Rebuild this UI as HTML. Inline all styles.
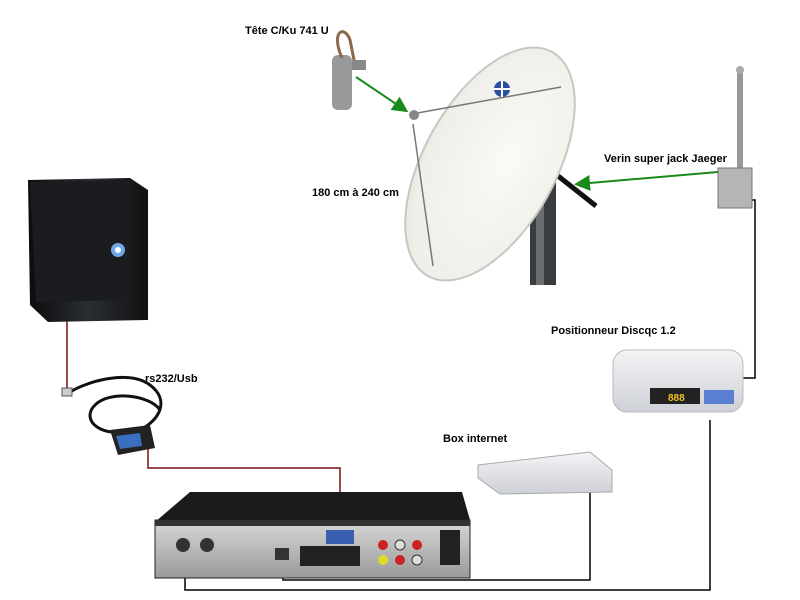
<!DOCTYPE html>
<html><head><meta charset="utf-8"><style>
html,body{margin:0;padding:0;background:#fff}
svg{display:block}
text{font-family:"Liberation Sans",sans-serif;font-weight:bold;font-size:11px;fill:#000}
</style></head><body>
<svg width="800" height="600" viewBox="0 0 800 600" xmlns="http://www.w3.org/2000/svg">
<defs>
<linearGradient id="pc" x1="0" x2="1"><stop offset="0" stop-color="#0c0c0c"/><stop offset="0.5" stop-color="#2a2e33"/><stop offset="1" stop-color="#111"/></linearGradient>
<radialGradient id="dish" cx="0.45" cy="0.4" r="0.7"><stop offset="0" stop-color="#fafaf6"/><stop offset="0.8" stop-color="#efeee8"/><stop offset="1" stop-color="#dddcd5"/></radialGradient>
<linearGradient id="wbox" x1="0" y1="0" x2="0" y2="1"><stop offset="0" stop-color="#f4f4f6"/><stop offset="1" stop-color="#cdd0d6"/></linearGradient>
<linearGradient id="rear" x1="0" y1="0" x2="0" y2="1"><stop offset="0" stop-color="#d8d8d8"/><stop offset="1" stop-color="#9a9a9a"/></linearGradient>
<marker id="ga" markerWidth="8" markerHeight="8" refX="6" refY="4" orient="auto"><path d="M0,0 L8,4 L0,8 z" fill="#1a8a1a"/></marker>
</defs>

<!-- cables -->
<polyline points="67,318 67,392" fill="none" stroke="#7a1010" stroke-width="1.5"/>
<polyline points="148,440 148,468 340,468 340,522" fill="none" stroke="#7a1010" stroke-width="1.5"/>
<polyline points="590,490 590,580 283,580 283,562" fill="none" stroke="#000" stroke-width="1.5"/>
<polyline points="710,420 710,590 185,590 185,562" fill="none" stroke="#000" stroke-width="1.5"/>
<polyline points="742,378 755,378 755,200 748,200" fill="none" stroke="#000" stroke-width="1.5"/>

<!-- PC tower -->
<path d="M28,180 L130,178 L148,190 L148,320 L48,322 L30,305 Z" fill="url(#pc)"/>
<path d="M30,182 L130,180 L130,300 L36,302 Z" fill="#1a1c20"/>
<circle cx="118" cy="250" r="7" fill="#6fa8e8"/>
<circle cx="118" cy="250" r="3" fill="#fff"/>

<!-- rs232 cable -->
<path d="M70,392 C90,380 130,370 150,385 C170,400 160,420 140,430 C100,440 80,420 95,405 C110,390 150,395 160,410" fill="none" stroke="#111" stroke-width="3"/>
<rect x="62" y="388" width="10" height="8" fill="#ccc" stroke="#555"/>
<path d="M110,430 L150,425 L155,448 L118,455 Z" fill="#222"/>
<path d="M116,436 L140,433 L142,446 L120,449 Z" fill="#3a6fc0"/>
<text x="145" y="382">rs232/Usb</text>

<!-- receiver -->
<path d="M190,492 L462,492 L470,520 L155,522 Z" fill="#1a1a1a"/>
<rect x="155" y="520" width="315" height="58" fill="url(#rear)" stroke="#222"/>
<rect x="155" y="520" width="315" height="6" fill="#333"/>
<rect x="326" y="530" width="28" height="14" fill="#3a5fb0"/>
<rect x="300" y="546" width="60" height="20" fill="#222"/>
<circle cx="183" cy="545" r="7" fill="#333"/><circle cx="207" cy="545" r="7" fill="#333"/>
<circle cx="383" cy="545" r="5" fill="#c22"/><circle cx="400" cy="545" r="5" fill="#ddd" stroke="#333"/><circle cx="417" cy="545" r="5" fill="#c22"/>
<circle cx="383" cy="560" r="5" fill="#dd2"/><circle cx="400" cy="560" r="5" fill="#c22"/><circle cx="417" cy="560" r="5" fill="#ddd" stroke="#333"/>
<rect x="275" y="548" width="14" height="12" fill="#333"/>
<rect x="440" y="530" width="20" height="35" fill="#222"/>

<!-- box internet -->
<path d="M478,465 L590,452 L612,470 L612,492 L500,494 L478,478 Z" fill="url(#wbox)" stroke="#aaa"/>
<text x="443" y="442">Box internet</text>

<!-- positioner -->
<rect x="613" y="350" width="130" height="62" rx="14" fill="url(#wbox)" stroke="#bbb"/>
<rect x="650" y="388" width="50" height="16" fill="#222"/>
<text x="668" y="401" style="fill:#f0c020;font-size:10px">888</text>
<rect x="704" y="390" width="30" height="14" fill="#5a7fd0"/>
<text x="551" y="334">Positionneur Discqc 1.2</text>

<!-- dish -->
<rect x="530" y="170" width="26" height="115" fill="#3a3d40"/>
<rect x="536" y="170" width="8" height="115" fill="#6a6d70"/>
<line x1="548" y1="168" x2="596" y2="206" stroke="#111" stroke-width="5"/>
<ellipse cx="490" cy="164" rx="128" ry="66" transform="rotate(119 490 164)" fill="url(#dish)" stroke="#c8c8c2" stroke-width="2"/>
<line x1="412" y1="114" x2="561" y2="87" stroke="#777" stroke-width="1.5"/>
<line x1="413" y1="124" x2="433" y2="266" stroke="#777" stroke-width="1.5"/>
<circle cx="414" cy="115" r="5" fill="#888"/>
<circle cx="502" cy="89" r="8" fill="#2a4fa0"/>
<path d="M502,81 L502,97 M494,89 L510,89" stroke="#fff" stroke-width="2"/>
<text x="312" y="196">180 cm à 240 cm</text>

<!-- LNB -->
<rect x="332" y="55" width="20" height="55" rx="6" fill="#999"/>
<path d="M342,58 C330,30 345,25 350,40 L355,65" fill="none" stroke="#8a6a4a" stroke-width="3"/>
<rect x="352" y="60" width="14" height="10" fill="#888"/>
<text x="245" y="34">Tête C/Ku 741 U</text>
<line x1="356" y1="77" x2="405" y2="110" stroke="#1a8a1a" stroke-width="2" marker-end="url(#ga)"/>

<!-- actuator -->
<line x1="740" y1="70" x2="740" y2="170" stroke="#999" stroke-width="6"/>
<circle cx="740" cy="70" r="4" fill="#aaa"/>
<rect x="718" y="168" width="34" height="40" fill="#b5b5b5" stroke="#777"/>
<text x="604" y="162">Verin super jack Jaeger</text>
<line x1="718" y1="172" x2="578" y2="184" stroke="#1a8a1a" stroke-width="2" marker-end="url(#ga)"/>
</svg>
</body></html>
